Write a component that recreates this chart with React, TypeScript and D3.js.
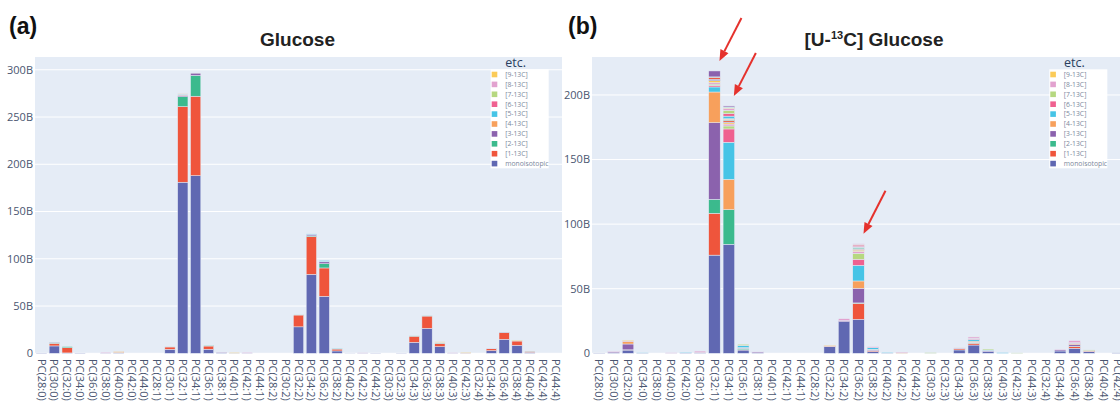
import React from "react";
import * as d3 from "d3";

// Categories (x axis)
const glucoseCategories = [
  "PC(28:0)", "PC(30:0)", "PC(32:0)", "PC(34:0)", "PC(36:0)", "PC(38:0)", "PC(40:0)", "PC(42:0)", "PC(44:0)",
  "PC(28:1)", "PC(30:1)", "PC(32:1)", "PC(34:1)", "PC(36:1)", "PC(38:1)", "PC(40:1)", "PC(42:1)", "PC(44:1)",
  "PC(28:2)", "PC(30:2)", "PC(32:2)", "PC(34:2)", "PC(36:2)", "PC(38:2)", "PC(40:2)", "PC(42:2)", "PC(44:2)",
  "PC(30:3)", "PC(32:3)", "PC(34:3)", "PC(36:3)", "PC(38:3)", "PC(40:3)", "PC(42:3)",
  "PC(32:4)", "PC(34:4)", "PC(36:4)", "PC(38:4)", "PC(40:4)", "PC(42:4)", "PC(44:4)",
];
const labeledCategories = [
  "PC(28:0)", "PC(30:0)", "PC(32:0)", "PC(34:0)", "PC(38:0)", "PC(40:0)", "PC(42:0)",
  "PC(30:1)", "PC(32:1)", "PC(34:1)", "PC(36:1)", "PC(38:1)", "PC(40:1)", "PC(42:1)", "PC(44:1)",
  "PC(28:2)", "PC(32:2)", "PC(34:2)", "PC(36:2)", "PC(38:2)", "PC(40:2)", "PC(42:2)", "PC(44:2)",
  "PC(30:3)", "PC(32:3)", "PC(34:3)", "PC(36:3)", "PC(38:3)", "PC(40:3)", "PC(42:3)", "PC(44:3)",
  "PC(32:4)", "PC(34:4)", "PC(36:4)", "PC(38:4)", "PC(40:4)", "PC(42:4)",
];

// Stacked values (B), one list per category: [monoisotopic, 1-13C, 2-13C, ...]
const glucoseStacks: number[][] = [
  [0.3],
  [7.8, 2.8, 0.8, 0.3],
  [0.4, 5.5, 1.2],
  [0.3],
  [0],
  [0.1, 0, 0, 0, 0, 0, 0, 0, 0.8],
  [0.3, 0.3, 0, 0, 0.8, 0, 0, 0, 0.6, 0.4],
  [0],
  [0],
  [0],
  [4.2, 2.5, 0.1],
  [181, 80, 10.5, 1.5, 0.5, 0.8, 0.3, 0.2, 0.3, 0.2],
  [188, 84, 22, 2.5, 0.3, 0.4],
  [4.3, 3.4, 0.7],
  [0.5, 0.2, 0, 0.4],
  [0.1, 0, 0, 0, 0, 0, 0, 0, 0, 0.7],
  [0.1, 0, 0, 0, 0, 0, 0, 0, 0.7],
  [0],
  [0],
  [0],
  [28, 12.5, 0.3],
  [83.5, 40, 0.8, 1.5, 0, 0.5],
  [60.3, 30, 4.5, 2, 0.4, 1],
  [2.5, 2, 0.6, 0, 0, 0.3],
  [0.1],
  [0.1, 0, 0, 0, 0, 0, 0, 0, 0.4],
  [0.2],
  [0],
  [0.2],
  [11.6, 6.5, 0.3],
  [26.4, 13, 0.4],
  [7, 3.5, 0.5, 0, 0.6, 0, 0, 0, 0, 0.6],
  [0.1, 0, 0, 0, 0, 0, 0, 0, 0.5],
  [0.1, 0, 0, 0, 0.5, 0, 0, 0, 0, 0.4],
  [0],
  [2.8, 2, 0.4, 0.2],
  [14.8, 7, 0.3, 0.3],
  [8.4, 4.6, 0.4, 0, 0, 0, 0, 0, 0, 0.6],
  [1, 1, 0.2],
  [0],
  [0],
];

const labeledStacks: number[][] = [
  [0.2],
  [0.3, 0, 0, 0.8, 0, 0, 0.4, 0, 0.3],
  [2.5, 0.2, 0, 4.5, 2, 0, 0.3, 0.4, 0, 0.4],
  [0.2, 0, 0, 0, 0, 0.3],
  [0],
  [0, 0, 0, 0, 0, 0, 0, 0, 0.4],
  [0.3, 0, 0, 0, 0, 0.6],
  [0.2, 0, 0, 0.5, 0, 0, 0.3, 0, 0.8],
  [76, 32.4, 10.8, 59.4, 23.7, 3.9, 1.2, 1.0, 1.2, 1.5, 1.1, 1.5, 0.3, 4.6],
  [84.4, 0, 26.8, 0, 23.5, 28.7, 10.3, 2.3, 1.5, 1.0, 0.5, 1.3, 0.5, 0.3, 0.5, 2.0, 2.0, 2.5, 1.5, 0.5, 0, 0, 0.6, 0.8],
  [2.5, 0.3, 1.0, 0.3, 0.3, 1.5, 0.2, 0.9],
  [0.3, 0, 0, 0.8, 0, 0, 0, 0, 0.3],
  [0],
  [0],
  [0],
  [0],
  [5.1, 0.4, 0, 0, 0.6, 0, 0, 0, 0, 0.3],
  [24.5, 0, 0, 0.8, 0, 0, 0, 0, 1.5],
  [26.3, 12.4, 0.3, 11.3, 5.7, 12.1, 4.7, 4.6, 1.5, 1.0, 0.5, 0.3, 0.8, 0.3, 0.3, 0.5, 1.2, 0.5, 0.5],
  [1.3, 0.8, 0, 0.5, 0.5, 1.2, 0, 0, 0.8],
  [0.2, 0, 0, 0, 0, 0.6],
  [0, 0, 0, 0, 0.5, 0, 0, 0, 0.5],
  [0],
  [0, 0, 0, 0, 0, 0, 0, 0.5],
  [0],
  [2.6, 0.9, 0.3, 0.4, 0.4],
  [6.4, 1.4, 0.3, 0.5, 0.8, 1.3, 0.4, 0.4, 1.2, 0.2],
  [1.4, 0, 0, 0.7, 0, 0.4, 0, 0.8],
  [0, 0, 0, 0, 0, 0.5],
  [0, 0, 0, 0, 0, 0, 0, 0.3],
  [0],
  [0],
  [1.8, 0, 0, 0.9, 0, 0, 0, 0, 0.6],
  [3.9, 1.3, 0.3, 1.2, 0.8, 0.3, 0.4, 0, 1.6],
  [1.3, 0.4, 0, 0, 0.4, 0, 0, 0.5],
  [0],
  [0.3],
];

const glucoseTicks = [0, 50, 100, 150, 200, 250, 300];
const labeledTicks = [0, 50, 100, 150, 200];

const legendLabels = [
  "monoisotopic", "[1-13C]", "[2-13C]", "[3-13C]", "[4-13C]",
  "[5-13C]", "[6-13C]", "[7-13C]", "[8-13C]", "[9-13C]",
];
const palette = [
  "#6068b2", "#ef553c", "#3bba8d", "#8b62ad", "#f7a05c",
  "#46c4e6", "#ef6190", "#b6d880", "#e2a2cf", "#fbcb58",
];

// bars marked with red arrows in panel (b)
const pointedAt = ["PC(32:1)", "PC(34:1)", "PC(36:2)"];

const FONT = '"Open Sans", verdana, arial, sans-serif';
const TITLE_FONT = '"Liberation Sans", Arial, sans-serif';

const plotTop = 57;
const plotBottom = 353.3;

type PanelProps = {
  left: number;
  width: number;
  yMax: number;
  categories: string[];
  stacks: number[][];
  ticks: number[];
  legendLeft: number;
  arrows?: string[];
};

const Panel = ({ left, width, yMax, categories, stacks, ticks, legendLeft, arrows = [] }: PanelProps) => {
  const x = d3
    .scaleBand<string>()
    .domain(categories)
    .range([left, left + width])
    .paddingInner(0.2)
    .paddingOuter(0.1);
  const y = d3.scaleLinear().domain([0, yMax]).range([plotBottom, plotTop]);

  const depth = d3.max(stacks, (s) => s.length) ?? 1;
  const keys = d3.range(depth).map(String);
  const rows = stacks.map((vals, i) => ({ cat: categories[i], vals }));
  const series = d3
    .stack<{ cat: string; vals: number[] }, string>()
    .keys(keys)
    .value((d, k) => d.vals[+k] ?? 0)(rows);

  const legendTop = plotTop + 12.5;
  const rowH = 9.9;

  return (
    <g>
      <rect x={left} y={plotTop} width={width} height={plotBottom - plotTop} fill="#e5ecf6" />
      {ticks.map((t) => (
        <line key={t} x1={left} x2={left + width} y1={y(t)} y2={y(t)} stroke="#fff" strokeWidth={1} />
      ))}
      {series.map((s, si) =>
        s.map((d, ci) => {
          const h = y(d[0]) - y(d[1]);
          if (h <= 0) return null;
          return (
            <rect
              key={`${si}-${ci}`}
              x={x(d.data.cat)}
              y={y(d[1])}
              width={x.bandwidth()}
              height={h}
              fill={palette[si % palette.length]}
              stroke="#e5ecf6"
              strokeWidth={0.5}
            />
          );
        })
      )}
      {ticks.map((t) => (
        <text
          key={`l${t}`}
          x={left - 2}
          y={y(t)}
          dy="0.35em"
          textAnchor="end"
          fontSize={11}
          fill="#4a5670"
          fontFamily={FONT}
        >
          {t === 0 ? "0" : `${t}B`}
        </text>
      ))}
      {categories.map((c) => {
        const cx = (x(c) ?? 0) + x.bandwidth() / 2;
        return (
          <text
            key={c}
            transform={`translate(${cx},359) rotate(90)`}
            dy="0.35em"
            fontSize={11}
            fill="#4a5670"
            fontFamily={FONT}
          >
            {c}
          </text>
        );
      })}

      {/* legend */}
      <text x={legendLeft + 25} y={plotTop + 9.7} textAnchor="middle" fontSize={12.5} fill="#2a3f5f" fontFamily={FONT}>
        etc.
      </text>
      <rect x={legendLeft} y={legendTop - 0.2} width={58} height={99} fill="#fff" />
      {legendLabels
        .slice()
        .reverse()
        .map((lab, i) => {
          const cy = legendTop + 5 + i * rowH;
          return (
            <g key={lab}>
              <rect x={legendLeft + 1} y={cy - 2.8} width={5.6} height={5.6} fill={palette[legendLabels.length - 1 - i]} />
              <text x={legendLeft + 14.5} y={cy} dy="0.35em" fontSize={6.8} fill="#7b879b" fontFamily={FONT}>
                {lab}
              </text>
            </g>
          );
        })}

      {/* red arrows */}
      {arrows.map((c) => {
        const i = categories.indexOf(c);
        const total = d3.sum(stacks[i]);
        const tipX = (x(c) ?? 0) + x.bandwidth() / 2 + 5;
        const tipY = y(total) - 10;
        const tailX = tipX + 22;
        const tailY = tipY - 43;
        const ang = Math.atan2(tipY - tailY, tipX - tailX);
        const len = 11;
        const hw = 4.5;
        const bx = tipX - len * Math.cos(ang);
        const by = tipY - len * Math.sin(ang);
        const px = -Math.sin(ang) * hw;
        const py = Math.cos(ang) * hw;
        return (
          <g key={`a${c}`}>
            <line x1={tailX} y1={tailY} x2={bx} y2={by} stroke="#e5322d" strokeWidth={2} />
            <polygon points={`${tipX},${tipY} ${bx + px},${by + py} ${bx - px},${by - py}`} fill="#e5322d" />
          </g>
        );
      })}
    </g>
  );
};

export default function App() {
  return (
    <div style={{ position: "absolute", left: 0, top: 0 }}>
      <svg width={1120} height={402} style={{ display: "block", background: "#fff" }}>
        <Panel
          left={35}
          width={527}
          yMax={313.5}
          categories={glucoseCategories}
          stacks={glucoseStacks}
          ticks={glucoseTicks}
          legendLeft={490.7}
        />
        <Panel
          left={592}
          width={533}
          yMax={229.4}
          categories={labeledCategories}
          stacks={labeledStacks}
          ticks={labeledTicks}
          legendLeft={1049.3}
          arrows={pointedAt}
        />
        <text x={9} y={33.5} fontSize={23} fontWeight="bold" fill="#111" fontFamily={TITLE_FONT}>
          (a)
        </text>
        <text x={568} y={33.5} fontSize={23} fontWeight="bold" fill="#111" fontFamily={TITLE_FONT}>
          (b)
        </text>
        <text x={297.5} y={46} textAnchor="middle" fontSize={19} fontWeight="bold" fill="#222" fontFamily={TITLE_FONT}>
          Glucose
        </text>
        <text x={874} y={46} textAnchor="middle" fontSize={19} fontWeight="bold" fill="#222" fontFamily={TITLE_FONT}>
          [U-<tspan fontSize={11} dy={-7}>13</tspan>
          <tspan dy={7}>C] Glucose</tspan>
        </text>
      </svg>
    </div>
  );
}
